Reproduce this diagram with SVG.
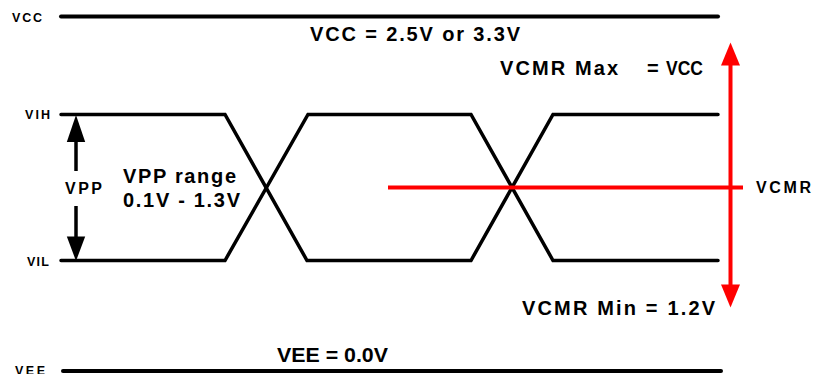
<svg xmlns="http://www.w3.org/2000/svg" width="813" height="374" viewBox="0 0 813 374">
<style>
text{font-family:"Liberation Sans",Arial,sans-serif;font-weight:bold;fill:#000}
.lbl{font-size:12.5px}
.big{font-size:20px}
.lvl{stroke:#000;stroke-width:4;stroke-linecap:round;fill:none}
.wave{stroke:#000;stroke-width:3.5;stroke-linecap:round;stroke-linejoin:miter;fill:none}
.red{stroke:#ff0000;stroke-width:4;fill:none}
.blk{stroke:#000;stroke-width:3.5;fill:none}
.hk{fill:#000}
.hr{fill:#ff0000}
</style>
<rect width="813" height="374" fill="#fff"/>
<g id="vcc">
<line class="lvl" x1="61" y1="16.5" x2="718" y2="16.5"/>
<text class="lbl" x="12" y="21.5" font-size="13" textLength="30" lengthAdjust="spacing">VCC</text>
<text class="big" x="310" y="41" textLength="210" lengthAdjust="spacing">VCC = 2.5V or 3.3V</text>
</g>
<g id="vee">
<line class="lvl" x1="63" y1="371" x2="721" y2="371"/>
<text class="lbl" x="15" y="375" textLength="30" lengthAdjust="spacing">VEE</text>
<text x="277" y="362" font-size="20" textLength="111" lengthAdjust="spacingAndGlyphs">VEE = 0.0V</text>
</g>
<g id="waveform">
<path class="wave" d="M61,114.5 L225,114.5 L307,260.5 L471,260.5 L553,114.5 L718,114.5"/>
<path class="wave" d="M61,260.5 L225,260.5 L308,114.5 L471,114.5 L553,260.5 L718,260.5"/>
<text class="lbl" x="25" y="119" textLength="25" lengthAdjust="spacing">VIH</text>
<text class="lbl" x="27" y="265.5" textLength="22" lengthAdjust="spacing">VIL</text>
</g>
<g id="vpp">
<text x="65" y="194" font-size="16" textLength="37" lengthAdjust="spacing">VPP</text>
<text class="big" x="123" y="183" textLength="113" lengthAdjust="spacing">VPP range</text>
<text class="big" x="123" y="207" textLength="117" lengthAdjust="spacing">0.1V - 1.3V</text>
</g>
<g id="vcmr">
<text class="big" x="500" y="75"><tspan textLength="118" lengthAdjust="spacing">VCMR Max</tspan> <tspan x="647">=</tspan> <tspan x="666" textLength="37" lengthAdjust="spacingAndGlyphs">VCC</tspan></text>
<text class="big" x="522" y="315" textLength="193" lengthAdjust="spacing">VCMR Min = 1.2V</text>
<text x="756" y="193" font-size="16" textLength="55" lengthAdjust="spacing">VCMR</text>
</g>
<g id="connectors">
<line class="blk" x1="76" y1="171" x2="76" y2="138"/>
<path class="hk" d="M76,115 L66.8,142 L85.2,142 Z"/>
<line class="blk" x1="76" y1="206" x2="76" y2="240"/>
<path class="hk" d="M76,261 L66.8,236.5 L85.2,236.5 Z"/>
<line class="red" x1="388" y1="187.5" x2="743" y2="187.5"/>
<line class="red" x1="730.5" y1="64" x2="730.5" y2="286"/>
<path class="hr" d="M730.5,42.5 L721,65.5 L740,65.5 Z"/>
<path class="hr" d="M730.5,307.5 L721,284.5 L740,284.5 Z"/>
</g>
</svg>
